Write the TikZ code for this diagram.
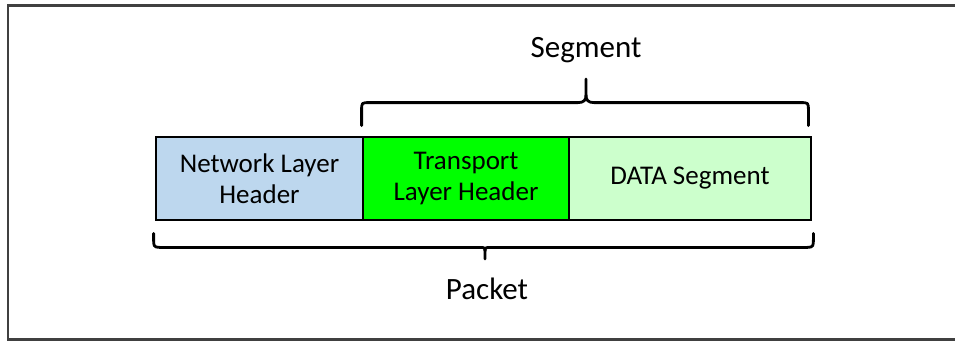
\documentclass[tikz,border=0pt]{standalone}
\usepackage{fontspec}
\setmainfont{Carlito}
\usetikzlibrary{calc}
\definecolor{netblue}{HTML}{BDD7EE}
\definecolor{transgreen}{HTML}{00FF00}
\definecolor{datagreen}{HTML}{CCFFCC}
\definecolor{framegray}{HTML}{404040}
\tikzset{
  field/.style={draw=black, line width=2.8pt, minimum height=83pt, inner sep=0pt,
    align=center, font=\fontsize{27}{31.5}\selectfont},
  bracepath/.style={draw=black, line width=2.8pt, line cap=round, line join=round},
  bracelabel/.style={font=\fontsize{31}{36}\selectfont, inner sep=0pt, anchor=base}
}
\begin{document}
\begin{tikzpicture}[x=1pt, y=-1pt]
  \useasboundingbox (0,0) rectangle (955,341);
  \begin{scope}
    \clip (0,0) rectangle (955,341);
    \draw[framegray, line width=2.2pt] (8,5.5) rectangle (970,339.5);
  \end{scope}

  % the three fields of the packet
  \node[field, fill=netblue, minimum width=207pt] (net) at (259.5,178.5) {Network Layer\\Header};
  \node[field, fill=transgreen, minimum width=206pt] (trans) at (466,178.5) {Transport\\Layer Header};
  \node[field, fill=datagreen, minimum width=242pt] (data) at (690,178.5) {DATA Segment};

  % brace over the segment
  \coordinate (sl) at ($(trans.north west)+(0,-10)$);
  \coordinate (sr) at ($(data.north east)+(-4,-10)$);
  \coordinate (stip) at (586,79);
  \draw[bracepath]
    (sl) -- ++(0,-15) .. controls ++(0,-8) and ++(-8,0) .. ($(sl)+(8,-23)$)
    -- ($(stip |- sl)+(-8,-23)$) .. controls ++(6,0) and ++(0,5) .. ($(stip)+(0,16)$)
    -- (stip);
  \draw[bracepath]
    ($(stip)+(0,16)$) .. controls ++(0,5) and ++(-6,0) .. ($(stip |- sr)+(8,-23)$)
    -- ($(sr)+(-8,-23)$) .. controls ++(8,0) and ++(0,-8) .. ($(sr)+(0,-15)$)
    -- (sr);
  \node[bracelabel] (seglabel) at (586,57) {Segment};

  % brace under the whole packet
  \coordinate (pl) at ($(net.south west)+(-1,12)$);
  \coordinate (pr) at ($(data.south east)+(1,12)$);
  \coordinate (ptip) at (485,259);
  \draw[bracepath]
    (pl) -- ++(0,6) .. controls ++(0,6) and ++(-6,0) .. ($(pl)+(6,14)$)
    -- ($(ptip |- pl)+(-6,14)$) .. controls ++(4,0) and ++(0,-4) .. ($(ptip)+(0,-8)$)
    -- (ptip);
  \draw[bracepath]
    ($(ptip)+(0,-8)$) .. controls ++(0,-4) and ++(-4,0) .. ($(ptip |- pr)+(6,14)$)
    -- ($(pr)+(-6,14)$) .. controls ++(6,0) and ++(0,6) .. ($(pr)+(0,6)$)
    -- (pr);
  \node[bracelabel] (pktlabel) at (487,299) {Packet};
\end{tikzpicture}
\end{document}
